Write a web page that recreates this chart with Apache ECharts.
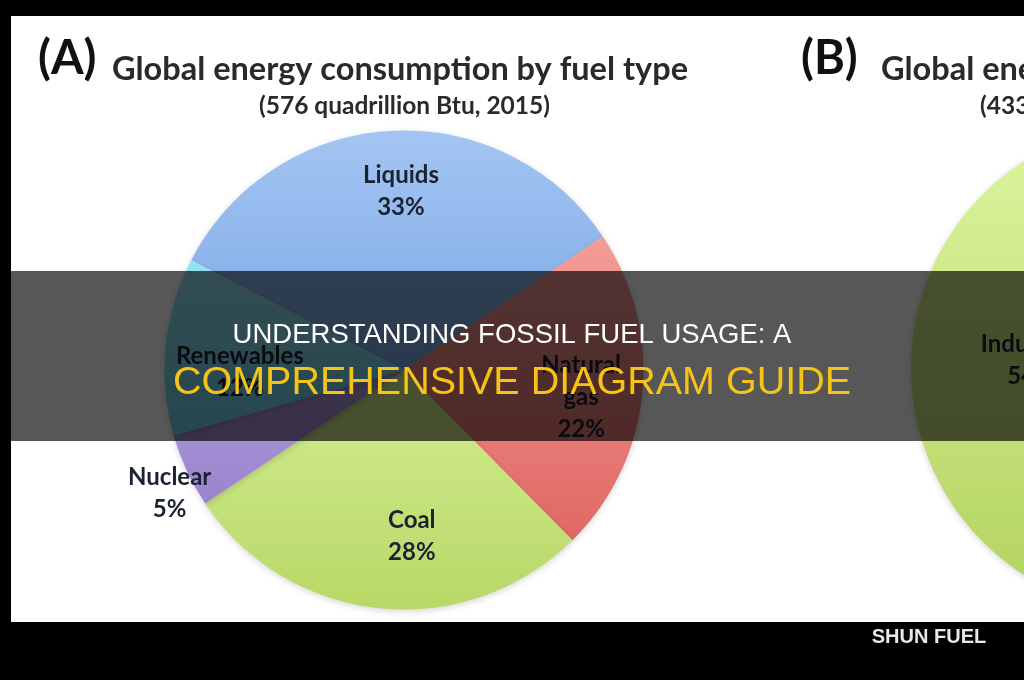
<!DOCTYPE html>
<html>
<head>
<meta charset="utf-8">
<script src="https://cdn.jsdelivr.net/npm/echarts@6/dist/echarts.min.js"></script>
<style>
html,body{margin:0;padding:0;background:#000;}
#chart{width:1024px;height:680px;}
</style>
</head>
<body>
<div id="chart"></div>
<script>
// ---- data ----
const fuelTypes = ['Liquids', 'Natural\ngas', 'Coal', 'Nuclear', 'Renewables'];
const fuelShares = [33, 22, 28, 5, 12];
const sectorNames = ['Industrial', 'Other sectors'];
const sectorShares = [54, 46];
const titleTextA = 'Global energy consumption by fuel type';
const subTextA = '(576 quadrillion Btu, 2015)';
const titleTextB = 'Global energy consumption by sector';
const subTextB = '(433 quadrillion Btu, 2015)';
const bannerLine1 = 'UNDERSTANDING FOSSIL FUEL USAGE: A';
const bannerLine2 = 'COMPREHENSIVE DIAGRAM GUIDE';
const watermark = 'SHUN FUEL';

// ---- style ----
const fuelTop = ['#a3c5f3', '#f39d97', '#d3ed92', '#ae99dd', '#95e3f1'];
const fuelBottom = ['#7ba7e4', '#e06864', '#b8d867', '#9a84cc', '#6ccfe6'];
const sectorTop = ['#dcf59f', '#dcf59f'];
const sectorBottom = ['#b2d25e', '#b2d25e'];
const nudgeA = [[4, -56], [55, 15], [20, 44], [-123, 72], [-42, 14]];
const nudgeB = [[0, -8], [0, 0]];

function grad(top, bottom) {
  return {type: 'linear', x: 0, y: 0, x2: 0, y2: 1,
    colorStops: [{offset: 0, color: top}, {offset: 1, color: bottom}]};
}
function pct(v) { return v + '%'; }

const labelFont = {fontFamily: 'Lato', fontWeight: 'bold', fontSize: 24, color: '#1b2230', lineHeight: 32};

const chart = echarts.init(document.getElementById('chart'), null, {renderer: 'canvas'});
chart.setOption({
  backgroundColor: '#ffffff',
  animation: false,
  title: [
    {text: '(A)', left: 33, top: 30, textStyle: {fontFamily: 'Lato', fontWeight: 'bold', fontSize: 47, color: '#111'}},
    {text: titleTextA, left: 107, top: 48, textStyle: {fontFamily: 'Lato', fontWeight: 'bold', fontSize: 32.5, color: '#2a2a2a'}},
    {text: subTextA, left: 254, top: 89, textStyle: {fontFamily: 'Lato', fontWeight: 'bold', fontSize: 24.5, color: '#2a2a2a'}},
    {text: '(B)', left: 796, top: 30, textStyle: {fontFamily: 'Lato', fontWeight: 'bold', fontSize: 47, color: '#111'}},
    {text: titleTextB, left: 876, top: 48, textStyle: {fontFamily: 'Lato', fontWeight: 'bold', fontSize: 32.5, color: '#2a2a2a'}},
    {text: subTextB, left: 975, top: 89, textStyle: {fontFamily: 'Lato', fontWeight: 'bold', fontSize: 24.5, color: '#2a2a2a'}}
  ],
  series: [
    {
      type: 'pie',
      center: [404, 370],
      radius: 239.5,
      startAngle: 152.7,
      clockwise: true,
      avoidLabelOverlap: false,
      data: fuelTypes.map((n, i) => ({
        name: n, value: fuelShares[i],
        itemStyle: {color: grad(fuelTop[i], fuelBottom[i])}
      })),
      itemStyle: {borderWidth: 0, shadowBlur: 6, shadowColor: 'rgba(0,0,0,0.16)', shadowOffsetY: 2},
      label: Object.assign({show: true, position: 'inside', align: 'center',
        formatter: p => p.name + '\n' + pct(p.value)}, labelFont),
      labelLine: {show: false},
      labelLayout: p => ({dx: nudgeA[p.dataIndex][0], dy: nudgeA[p.dataIndex][1]}),
      emphasis: {disabled: true}
    },
    {
      type: 'pie',
      center: [1157, 368],
      radius: 246,
      startAngle: 277.2,
      clockwise: true,
      avoidLabelOverlap: false,
      data: sectorNames.map((n, i) => ({
        name: n, value: sectorShares[i],
        itemStyle: {color: grad(sectorTop[i], sectorBottom[i])},
        label: {show: i === 0}
      })),
      itemStyle: {borderWidth: 0, shadowBlur: 6, shadowColor: 'rgba(0,0,0,0.16)', shadowOffsetY: 2},
      label: Object.assign({show: true, position: 'inside', align: 'center',
        formatter: p => p.name + '\n' + pct(p.value)}, labelFont),
      labelLine: {show: false},
      labelLayout: p => ({dx: nudgeB[p.dataIndex][0], dy: nudgeB[p.dataIndex][1]}),
      emphasis: {disabled: true}
    }
  ],
  graphic: [
    {type: 'rect', z: 100, shape: {x: 0, y: 0, width: 1024, height: 16}, style: {fill: '#000'}},
    {type: 'rect', z: 100, shape: {x: 0, y: 0, width: 11, height: 680}, style: {fill: '#000'}},
    {type: 'rect', z: 100, shape: {x: 0, y: 622, width: 1024, height: 58}, style: {fill: '#000'}},
    {type: 'text', z: 101, style: {text: watermark, x: 929, y: 637, textAlign: 'center', textVerticalAlign: 'middle',
      font: 'bold 20px "Liberation Sans"', fill: '#e8e8e8'}},
    {type: 'rect', z: 110, shape: {x: 0, y: 271, width: 1024, height: 170}, style: {fill: 'rgba(0,0,0,0.66)'}},
    {type: 'text', z: 111, style: {text: bannerLine1, x: 512, y: 335, textAlign: 'center', textVerticalAlign: 'middle',
      font: '27.5px "Liberation Sans"', fill: '#ffffff'}},
    {type: 'text', z: 111, style: {text: bannerLine2, x: 512, y: 383, textAlign: 'center', textVerticalAlign: 'middle',
      font: '39.5px "Liberation Sans"', fill: '#f6c318'}}
  ]
});
</script>
</body>
</html>
